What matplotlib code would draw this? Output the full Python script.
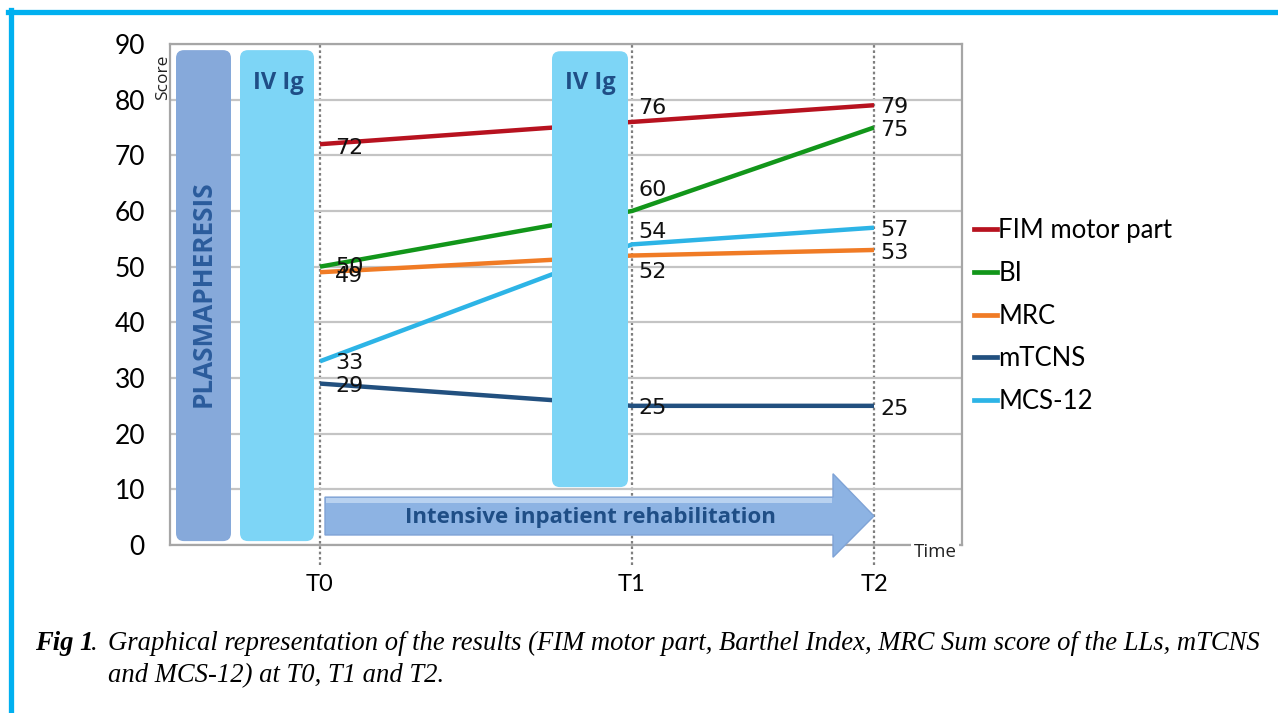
import matplotlib
matplotlib.use("Agg")
import matplotlib.pyplot as plt
from matplotlib.patches import FancyBboxPatch, Polygon, Rectangle
from matplotlib.lines import Line2D

# ── data ──────────────────────────────────────────────────────────────────────
times = ["T0", "T1", "T2"]
time_pos = [15.0, 46.2, 70.4]          # unevenly spaced assessments

fim = [72, 76, 79]
bi = [50, 60, 75]
mrc = [49, 52, 53]
mtcns = [29, 25, 25]
mcs12 = [33, 54, 57]

series_names = ["FIM motor part", "BI", "MRC", "mTCNS", "MCS-12"]
series_vals = [fim, bi, mrc, mtcns, mcs12]

# ── colours ───────────────────────────────────────────────────────────────────
COLORS = ["#B7121F", "#12961A", "#F07B25", "#22507F", "#2DB4E6"]
GRID = "#C4C4C4"
PLASMA = "#86A9DA"
IVIG = "#7DD5F6"
ARROW = "#8DB3E3"
DARKBLUE = "#1F4E86"
BORDER = "#00B0F0"

# label nudges so numbers don't sit on each other
label_dx = [1.5, 0.6, 0.6]
label_dy = [
    [-0.6, 2.5, -0.3],
    [0.0, 3.7, -0.5],
    [-0.6, -3.0, -0.5],
    [-0.5, -0.3, -0.5],
    [-0.3, 2.3, -0.5],
]

W, H = 1278, 713
fig = plt.figure(figsize=(W / 100, H / 100), dpi=100, facecolor="white")
ax = fig.add_axes([170 / W, (H - 545) / H, (962 - 170) / W, (545 - 44) / H])

ax.set_xlim(0, 79.2)
ax.set_ylim(0, 90)

# grid + frame
ax.set_yticks(range(0, 91, 10))
ax.set_yticklabels([str(v) for v in range(0, 91, 10)], fontsize=19, family="Lato")
ax.yaxis.grid(True, color=GRID, linewidth=1.6, zorder=0)
ax.tick_params(axis="y", length=0, pad=18)
ax.set_xticks(time_pos)
ax.set_xticklabels(times, fontsize=17, family="Lato")
ax.tick_params(axis="x", length=0, pad=21)
for s in ax.spines.values():
    s.set_color("#A6A6A6")
    s.set_linewidth(1.6)

# dotted time markers, reaching below the axis
for x in time_pos:
    ax.plot([x, x], [-3.6, 90], color="#7F7F7F", lw=1.6, ls=(0, (1.2, 1.2)),
            clip_on=False, zorder=1)

# data lines
for vals, col in zip(series_vals, COLORS):
    ax.plot(time_pos, vals, color=col, lw=3.2, solid_capstyle="butt", zorder=3)

for vals, dys in zip(series_vals, label_dy):
    for x, dx, v, dy in zip(time_pos, label_dx, vals, dys):
        ax.text(x + dx, v + dy, str(v), fontsize=16, va="center", ha="left",
                color="#111111", zorder=6)

# treatment blocks
aspect = 10 / 5.567


def block(x0, x1, y0, y1, color):
    p = FancyBboxPatch((x0, y0), x1 - x0, y1 - y0,
                       boxstyle="round,pad=0,rounding_size=0.8",
                       mutation_aspect=aspect, facecolor=color,
                       edgecolor="none", zorder=4)
    ax.add_patch(p)


block(0.6, 6.1, 0.7, 88.9, PLASMA)
block(7.0, 14.4, 0.7, 88.9, IVIG)
block(38.2, 45.8, 10.4, 88.7, IVIG)

ax.text(3.35, 45.2, "PLASMAPHERESIS", rotation=90, ha="center", va="center",
        fontsize=18.8, fontweight="bold", color="#2B5C9C", family="Open Sans",
        zorder=5)
for xc in (10.8, 42.0):
    ax.text(xc, 83.0, "IV Ig", ha="center", va="center", fontsize=17,
            fontweight="bold", color=DARKBLUE, family="Open Sans", zorder=5)

# rehabilitation arrow
arrow = Polygon([(15.5, 1.8), (15.5, 8.6), (66.3, 8.6), (66.3, 12.8),
                 (70.4, 5.2), (66.3, -2.2), (66.3, 1.8)],
                closed=True, facecolor=ARROW, edgecolor="#7FA3D6", lw=1,
                clip_on=False, zorder=4)
ax.add_patch(arrow)
ax.add_patch(Rectangle((15.6, 7.6), 50.6, 0.9, facecolor="#B9D2F0",
                       edgecolor="none", zorder=4))
ax.text(42.0, 5.0, "Intensive inpatient rehabilitation", ha="center",
        va="center", fontsize=16, fontweight="bold", color=DARKBLUE,
        family="Open Sans", zorder=5)

# axis captions
ax.text(-0.65, 84.0, "Score", rotation=90, ha="center", va="center",
        fontsize=12.5, family="Open Sans", color="#222222", clip_on=False)
ax.text(76.5, -1.3, "Time", ha="center", va="center", fontsize=13.5,
        family="Open Sans", color="#222222", clip_on=False, zorder=6,
        bbox=dict(facecolor="white", edgecolor="none", pad=1.5))

# legend
handles = [Line2D([], [], color=c, lw=3.4) for c in COLORS]
fig.legend(handles, series_names, loc="center left",
           bbox_to_anchor=(974 / W, 1 - 316 / H), frameon=False,
           handlelength=0.9, handletextpad=0.05,
           labelspacing=0.7, borderpad=0, borderaxespad=0,
           prop={"family": "Lato", "size": 18.5})

# page border
fig.add_artist(Line2D([8 / W, 1], [1 - 12 / H, 1 - 12 / H], color=BORDER,
                      lw=3.8, transform=fig.transFigure))
fig.add_artist(Line2D([10.5 / W, 10.5 / W], [0, 1 - 10 / H], color=BORDER,
                      lw=3.8, transform=fig.transFigure))

# figure caption
cap = dict(fontsize=19.2, family="Liberation Serif", style="italic", va="baseline")
fig.text(35 / W, 1 - 650 / H, "Fig 1", fontweight="bold", **cap)
fig.text(91 / W, 1 - 650 / H, ".", **cap)
fig.text(108 / W, 1 - 650 / H,
         "Graphical representation of the results (FIM motor part, Barthel "
         "Index, MRC Sum score of the LLs, mTCNS", **cap)
fig.text(108 / W, 1 - 682 / H, "and MCS-12) at T0, T1 and T2.", **cap)

fig.savefig("out.png", dpi=100, facecolor="white")
